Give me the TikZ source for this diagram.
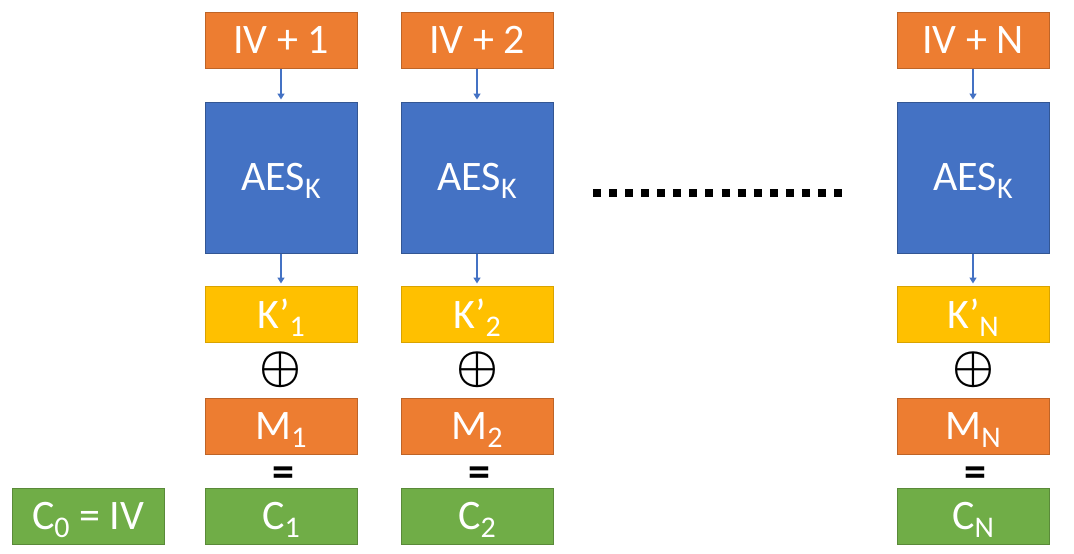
\documentclass[tikz,border=0pt]{standalone}
\usepackage{fontspec}
\setmainfont{Carlito}
\usetikzlibrary{arrows.meta, positioning}

\definecolor{boxorange}{HTML}{ED7D31}
\definecolor{boxblue}{HTML}{4472C4}
\definecolor{boxgold}{HTML}{FFC000}
\definecolor{boxgreen}{HTML}{70AD47}

% lowered subscript that does not change the height of the line
\newcommand{\lowsub}[1]{\raisebox{-8pt}[0pt][0pt]{\fontsize{30}{30}\selectfont #1}}
% large xor sign
\newcommand{\bigxor}{\resizebox{42pt}{!}{\boldmath$\oplus$}}

\begin{document}
\begin{tikzpicture}[x=1pt, y=-1pt,
    every node/.style={inner sep=0pt, text=white, font=\fontsize{42}{42}\selectfont},
    box/.style={draw, line width=1pt, minimum width=152pt, minimum height=56pt},
    ivbox/.style={box, fill=boxorange, draw=boxorange!80!black},
    aesbox/.style={box, fill=boxblue, draw=boxblue!75!black, minimum height=151pt},
    keybox/.style={box, fill=boxgold, draw=boxgold!85!black},
    msgbox/.style={box, fill=boxorange, draw=boxorange!80!black},
    ctbox/.style={box, fill=boxgreen, draw=boxgreen!80!black},
    xorsign/.style={text=black},
    eqsign/.style={text=black, font=\fontsize{44}{44}\selectfont\bfseries},
    arrow/.style={-{Triangle[length=6pt, width=7pt]}, line width=1.5pt, boxblue, shorten >=2pt}]

\useasboundingbox (0,0) rectangle (1074,554);

% counter blocks
\node[ivbox] (iv1) at (281,40) {IV + 1};
\node[ivbox] (iv2) at (477,40) {IV + 2};
\node[ivbox] (ivn) at (973,40) {IV + N};

% block cipher
\node[aesbox] (aes1) at (281,177.5) {AES\lowsub{K}};
\node[aesbox] (aes2) at (477,177.5) {AES\lowsub{K}};
\node[aesbox] (aesn) at (973,177.5) {AES\lowsub{K}};

% key stream
\node[keybox] (key1) at (281,314) {K’\lowsub{1}};
\node[keybox] (key2) at (477,314) {K’\lowsub{2}};
\node[keybox] (keyn) at (973,314) {K’\lowsub{N}};

\node[xorsign] (xor1) at (281,370) {\bigxor};
\node[xorsign] (xor2) at (477,370) {\bigxor};
\node[xorsign] (xorn) at (973,370) {\bigxor};

% plaintext
\node[msgbox] (msg1) at (281,426.5) {M\lowsub{1}};
\node[msgbox] (msg2) at (477,426.5) {M\lowsub{2}};
\node[msgbox] (msgn) at (973,426.5) {M\lowsub{N}};

\node[eqsign] (eq1) at (283,477) {=};
\node[eqsign] (eq2) at (479,477) {=};
\node[eqsign] (eqn) at (975,477) {=};

% ciphertext
\node[ctbox] (ct0) at (88,516.5) {C\lowsub{0} = IV};
\node[ctbox] (ct1) at (281,516.5) {C\lowsub{1}};
\node[ctbox] (ct2) at (477,516.5) {C\lowsub{2}};
\node[ctbox] (ctn) at (973,516.5) {C\lowsub{N}};

\draw[arrow] (iv1) -- (aes1);
\draw[arrow] (iv2) -- (aes2);
\draw[arrow] (ivn) -- (aesn);
\draw[arrow] (aes1) -- (key1);
\draw[arrow] (aes2) -- (key2);
\draw[arrow] (aesn) -- (keyn);

% the skipped blocks
\coordinate (dotsL) at (593,192.5);
\coordinate (dotsR) at (842,192.5);
\draw[line width=8pt, dash pattern=on 8pt off 8.07pt] (dotsL) -- (dotsR);

\end{tikzpicture}
\end{document}
